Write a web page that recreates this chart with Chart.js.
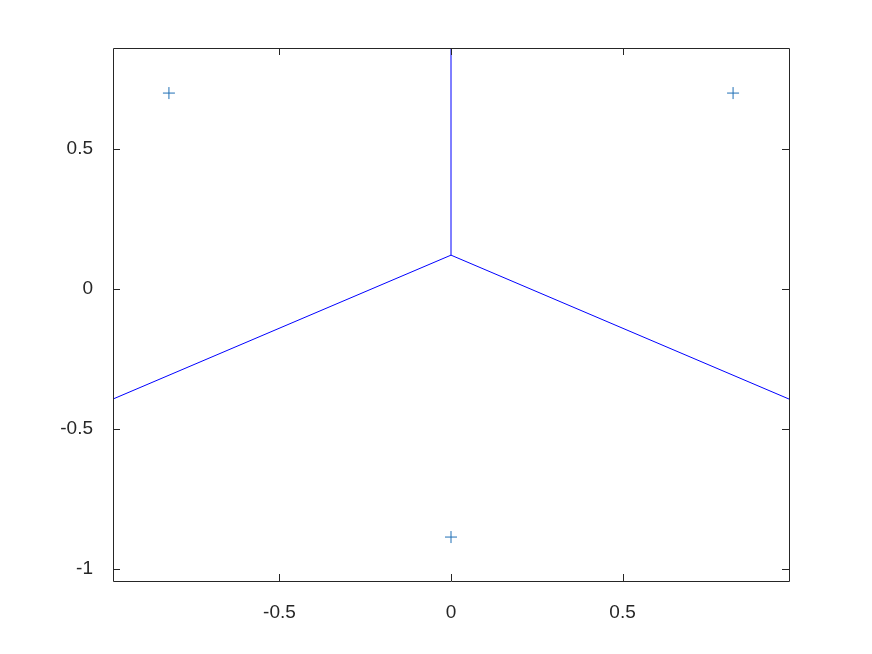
<!DOCTYPE html>
<html>
<head>
<meta charset="utf-8">
<script src="https://cdn.jsdelivr.net/npm/chart.js@4"></script>
<style>
  body { margin: 0; background: #fff; }
  canvas { display: block; }
</style>
</head>
<body>
<canvas id="voronoiChart" width="872" height="654"></canvas>
<script>
// seed points (crosses)
const seedX = [-0.822, 0.822, 0];
const seedY = [0.7, 0.7, -0.886];

// voronoi edges
const edgeUpX = [0, 0];
const edgeUpY = [0.121, 0.861];
const edgeLeftX = [0, -0.985];
const edgeLeftY = [0.121, -0.393];
const edgeRightX = [0, 0.985];
const edgeRightY = [0.121, -0.393];

const xLimits = [-0.985, 0.985];
const yLimits = [-1.043, 0.861];
const xTicks = [-0.5, 0, 0.5];
const yTicks = [-1, -0.5, 0, 0.5];

function toPoints(xs, ys) {
  return xs.map((x, i) => ({ x: x, y: ys[i] }));
}

// box and inward ticks, octave style
const frame = {
  id: "frame",
  afterDatasetsDraw(chart) {
    const ctx = chart.ctx;
    const a = chart.chartArea;
    const xs = chart.scales.x, ys = chart.scales.y;
    const len = 7;
    ctx.save();
    ctx.strokeStyle = "#262626";
    ctx.lineWidth = 1;
    ctx.beginPath();
    ctx.rect(Math.round(a.left) + 0.5, Math.round(a.top) + 0.5,
      Math.round(a.right - a.left), Math.round(a.bottom - a.top));
    xTicks.forEach(v => {
      const px = Math.round(xs.getPixelForValue(v)) + 0.5;
      ctx.moveTo(px, a.bottom); ctx.lineTo(px, a.bottom - len);
      ctx.moveTo(px, a.top); ctx.lineTo(px, a.top + len);
    });
    yTicks.forEach(v => {
      const py = Math.round(ys.getPixelForValue(v)) + 0.5;
      ctx.moveTo(a.left, py); ctx.lineTo(a.left + len, py);
      ctx.moveTo(a.right, py); ctx.lineTo(a.right - len, py);
    });
    ctx.stroke();
    ctx.restore();
  }
};

const lineStyle = {
  type: "line",
  showLine: true,
  borderColor: "#0000ff",
  borderWidth: 1,
  pointRadius: 0,
  fill: false
};

const tickFont = { family: "Liberation Sans", size: 19 };

const ctx = document.getElementById("voronoiChart").getContext("2d");
new Chart(ctx, {
  type: "scatter",
  data: {
    datasets: [
      Object.assign({ data: toPoints(edgeUpX, edgeUpY) }, lineStyle),
      Object.assign({ data: toPoints(edgeLeftX, edgeLeftY) }, lineStyle),
      Object.assign({ data: toPoints(edgeRightX, edgeRightY) }, lineStyle),
      {
        data: toPoints(seedX, seedY),
        pointStyle: "cross",
        pointRadius: 6,
        borderColor: "#1f6fb5",
        backgroundColor: "#1f6fb5",
        borderWidth: 1
      }
    ]
  },
  options: {
    responsive: false,
    animation: false,
    events: [],
    layout: { padding: { left: 0, right: 83, top: 48, bottom: 0 } },
    plugins: { legend: { display: false }, tooltip: { enabled: false } },
    scales: {
      x: {
        type: "linear",
        min: xLimits[0],
        max: xLimits[1],
        grid: { display: false },
        border: { display: false },
        afterBuildTicks: s => { s.ticks = xTicks.map(v => ({ value: v })); },
        afterFit: s => { s.height = 73; },
        ticks: {
          padding: 12,
          color: "#262626",
          font: tickFont,
          maxRotation: 0,
          callback: v => String(v)
        }
      },
      y: {
        type: "linear",
        min: yLimits[0],
        max: yLimits[1],
        grid: { display: false },
        border: { display: false },
        afterBuildTicks: s => { s.ticks = yTicks.map(v => ({ value: v })); },
        afterFit: s => { s.width = 113; },
        ticks: {
          padding: 12,
          color: "#262626",
          font: tickFont,
          callback: v => String(v)
        }
      }
    }
  },
  plugins: [frame]
});
</script>
</body>
</html>
